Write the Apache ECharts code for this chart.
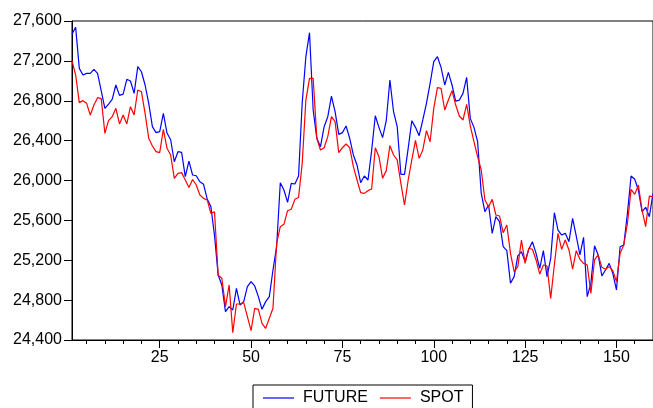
<!DOCTYPE html>
<html>
<head>
<meta charset="utf-8">
<script src="https://cdn.jsdelivr.net/npm/echarts@6/dist/echarts.min.js"></script>
<style>html,body{margin:0;padding:0;background:#fff;}#c{width:653px;height:408px;}</style>
</head>
<body>
<div id="c"></div>
<script>
const categories = [];
for (let i = 1; i <= 160; i++) categories.push(String(i));

const future = [
27469,27536,27125,27058,27075,27075,27115,27075,26900,26724,
26767,26814,26958,26854,26867,27015,26998,26874,27142,27091,
26958,26774,26540,26480,26490,26674,26476,26409,26188,26289,
26282,26038,26195,26055,26048,25988,25962,25815,25738,25450,
25052,24952,24684,24735,24701,24918,24751,24785,24935,24985,
24942,24835,24708,24785,24835,25102,25336,25978,25905,25781,
25971,25965,26045,26780,27242,27483,26707,26423,26339,26540,
26640,26847,26690,26463,26480,26547,26423,26256,26155,25978,
26045,26005,26300,26650,26533,26430,26600,27008,26690,26540,
26062,26062,26323,26600,26533,26450,26607,26774,26974,27192,
27242,27135,26958,27085,26958,26797,26807,26874,27035,26623,
26533,26389,25871,25687,25754,25470,25637,25587,25336,25296,
24969,25036,25243,25286,25186,25310,25386,25269,25119,25296,
25035,25219,25677,25503,25453,25470,25386,25620,25443,25253,
25430,24835,24968,25346,25253,25042,25102,25169,25069,24902,
25336,25353,25671,26045,26012,25905,25687,25731,25637,25870
];

const spot = [
27202,27058,26781,26801,26774,26657,26757,26831,26821,26473,
26600,26640,26724,26567,26657,26567,26740,26657,26908,26891,
26674,26423,26346,26289,26279,26513,26323,26256,26022,26072,
26079,26005,25930,26010,25955,25855,25821,25805,25670,25685,
25050,25019,24735,24952,24474,24761,24761,24775,24634,24494,
24718,24708,24567,24517,24618,24718,25370,25537,25560,25697,
25711,25811,25830,26172,26807,27025,27025,26423,26306,26329,
26440,26640,26590,26279,26329,26366,26329,26139,26005,25878,
25871,25898,25915,26329,26239,26022,26099,26349,26256,26206,
25972,25754,26005,26206,26403,26222,26306,26500,26389,26724,
26931,26924,26707,26807,26901,26757,26647,26607,26764,26547,
26389,26239,26105,25804,25737,25811,25654,25644,25477,25554,
25269,25086,25136,25403,25169,25320,25310,25203,25062,25152,
25142,24818,25152,25470,25310,25403,25303,25112,25296,25209,
25169,25152,24868,25203,25253,25129,25109,25136,25096,24985,
25269,25353,25570,25911,25861,25955,25704,25537,25844,25838
];

const yMin = 24400, yMax = 27600, yStep = 400;
const FONT = 'Liberation Sans, Arial, sans-serif';

const chart = echarts.init(document.getElementById('c'), null, {renderer: 'canvas'});
chart.setOption({
  animation: false,
  backgroundColor: '#ffffff',
  textStyle: {fontFamily: FONT, color: '#000'},
  grid: {left: 72, top: 21, width: 583, height: 319, show: true, borderColor: '#000', borderWidth: 1, containLabel: false},
  legend: {
    left: 253, top: 385,
    padding: [5, 9, 20, 10],
    itemGap: 12,
    itemWidth: 31, itemHeight: 1.2,
    borderColor: '#000', borderWidth: 1,
    textStyle: {fontFamily: FONT, fontSize: 16, color: '#000', padding: [0, 0, 0, 4]},
    data: [
      {name: 'FUTURE', icon: 'rect', itemStyle: {color: '#0000ff'}},
      {name: 'SPOT', icon: 'rect', itemStyle: {color: '#ff0000'}}
    ]
  },
  xAxis: [
    {
      type: 'category', data: categories, boundaryGap: false, position: 'bottom',
      axisLine: {show: true, lineStyle: {color: '#000', width: 1}},
      axisTick: {show: true, length: 4, lineStyle: {color: '#000'},
        interval: function (idx, val) { return Number(val) % 5 === 0; }},
      axisLabel: {show: false},
      splitLine: {show: false}
    },
    {
      type: 'category', data: categories, boundaryGap: false, position: 'bottom',
      axisLine: {show: false},
      axisTick: {show: true, length: 8, lineStyle: {color: '#000'},
        interval: function (idx, val) { return Number(val) % 25 === 0; }},
      axisLabel: {show: true, fontSize: 16, color: '#000', fontFamily: FONT, margin: 10,
        interval: function (idx, val) { return Number(val) % 25 === 0; }},
      splitLine: {show: false}
    }
  ],
  yAxis: {
    type: 'value', min: yMin, max: yMax, interval: yStep,
    axisLine: {show: true, lineStyle: {color: '#000', width: 1}},
    axisTick: {show: true, length: 8, lineStyle: {color: '#000'}},
    axisLabel: {fontSize: 16, color: '#000', fontFamily: FONT, margin: 10,
      formatter: function (v) { return v.toLocaleString('en-US'); }},
    splitLine: {show: false}
  },
  series: [
    {name: 'FUTURE', type: 'line', data: future, xAxisIndex: 0, symbol: 'none',
      lineStyle: {color: '#0000ff', width: 1.2}, itemStyle: {color: '#0000ff'}},
    {name: 'SPOT', type: 'line', data: spot, xAxisIndex: 0, symbol: 'none',
      lineStyle: {color: '#ff0000', width: 1.2}, itemStyle: {color: '#ff0000'}}
  ]
});
</script>
</body>
</html>
